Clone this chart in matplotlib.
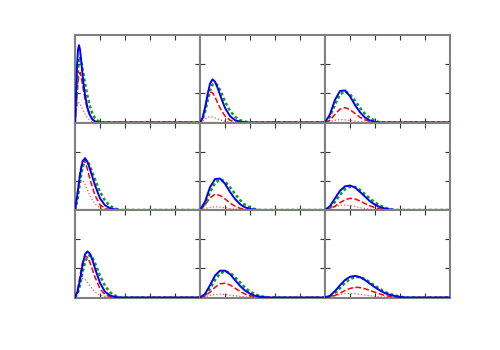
import numpy as np
from matplotlib import pyplot as plt

# curves, one panel at a time (row, column)
# every panel runs out to x = 5 on the zero line

# row 0
x_00 = [0, 0.04, 0.08, 0.12, 0.16, 0.2, 0.25, 0.3, 0.35, 0.4, 0.5, 0.6, 0.7, 0.8, 0.9, 1.0, 1.1]
blue_00 = [0, 0.9, 1.9, 2.5, 2.65, 2.5, 2.1, 1.65, 1.25, 0.95, 0.5, 0.25, 0.11, 0.04, 0.01, 0, 0]
green_00 = [0, 0.55, 1.2, 1.8, 2.15, 2.25, 2.1, 1.85, 1.6, 1.35, 0.9, 0.55, 0.3, 0.15, 0.07, 0.02, 0]
red_00 = [0, 0.35, 0.9, 1.4, 1.65, 1.72, 1.55, 1.3, 1.05, 0.8, 0.45, 0.22, 0.1, 0.04, 0.01, 0, 0]
dot_00 = [0, 0.3, 0.55, 0.67, 0.68, 0.63, 0.55, 0.45, 0.37, 0.29, 0.16, 0.08, 0.03, 0.01, 0, 0, 0]

x_01 = [0, 0.1, 0.2, 0.3, 0.4, 0.5, 0.6, 0.7, 0.8, 1.0, 1.2, 1.4, 1.6, 1.8, 2.0]
blue_01 = [0, 0.15, 0.5, 0.95, 1.33, 1.48, 1.4, 1.2, 0.95, 0.5, 0.22, 0.08, 0.03, 0.01, 0]
green_01 = [0, 0.1, 0.35, 0.72, 1.08, 1.3, 1.35, 1.28, 1.12, 0.72, 0.4, 0.2, 0.08, 0.03, 0]
red_01 = [0, 0.15, 0.48, 0.85, 1.04, 1.02, 0.88, 0.68, 0.5, 0.22, 0.08, 0.02, 0, 0, 0]
dot_01 = [0, 0.05, 0.12, 0.18, 0.2, 0.19, 0.16, 0.12, 0.09, 0.04, 0.015, 0, 0, 0, 0]

x_02 = [0, 0.2, 0.4, 0.6, 0.8, 1.0, 1.2, 1.4, 1.6, 1.8, 2.0, 2.2]
blue_02 = [0, 0.28, 0.78, 1.08, 1.1, 0.9, 0.6, 0.35, 0.17, 0.07, 0.02, 0]
green_02 = [0, 0.2, 0.62, 0.96, 1.07, 0.97, 0.75, 0.5, 0.3, 0.15, 0.06, 0]
red_02 = [0, 0.08, 0.28, 0.46, 0.51, 0.44, 0.31, 0.18, 0.09, 0.04, 0.01, 0]
dot_02 = [0, 0.04, 0.08, 0.1, 0.09, 0.07, 0.05, 0.03, 0.01, 0, 0, 0]

# row 1
x_10 = [0, 0.1, 0.2, 0.3, 0.4, 0.5, 0.6, 0.8, 1.0, 1.2, 1.4, 1.6, 1.8]
blue_10 = [0, 0.55, 1.2, 1.65, 1.78, 1.65, 1.4, 0.85, 0.4, 0.16, 0.06, 0.02, 0]
green_10 = [0, 0.35, 0.95, 1.45, 1.7, 1.68, 1.5, 1.05, 0.62, 0.32, 0.14, 0.05, 0]
red_10 = [0, 0.6, 1.3, 1.7, 1.65, 1.4, 1.05, 0.5, 0.18, 0.05, 0.01, 0, 0]
dot_10 = [0, 0.6, 1.0, 1.02, 0.88, 0.68, 0.48, 0.2, 0.07, 0.02, 0, 0, 0]

x_11 = [0, 0.2, 0.4, 0.6, 0.8, 1.0, 1.2, 1.4, 1.6, 1.8, 2.0, 2.2, 2.4]
blue_11 = [0, 0.28, 0.78, 1.06, 1.08, 0.9, 0.62, 0.38, 0.2, 0.09, 0.04, 0.01, 0]
green_11 = [0, 0.2, 0.6, 0.93, 1.05, 0.98, 0.78, 0.55, 0.34, 0.18, 0.09, 0.03, 0]
red_11 = [0, 0.17, 0.42, 0.54, 0.5, 0.38, 0.24, 0.13, 0.06, 0.02, 0, 0, 0]
dot_11 = [0, 0.05, 0.09, 0.11, 0.1, 0.08, 0.05, 0.03, 0.01, 0, 0, 0, 0]

x_12 = [0, 0.2, 0.4, 0.6, 0.8, 1.0, 1.2, 1.4, 1.6, 1.8, 2.0, 2.2, 2.4, 2.6, 2.8]
blue_12 = [0, 0.13, 0.4, 0.66, 0.81, 0.84, 0.77, 0.62, 0.46, 0.3, 0.18, 0.1, 0.05, 0.02, 0]
green_12 = [0, 0.08, 0.28, 0.52, 0.71, 0.8, 0.79, 0.69, 0.54, 0.39, 0.26, 0.15, 0.08, 0.03, 0]
red_12 = [0, 0.04, 0.13, 0.25, 0.35, 0.4, 0.38, 0.31, 0.22, 0.14, 0.08, 0.04, 0.02, 0.01, 0]
dot_12 = [0, 0.05, 0.11, 0.16, 0.17, 0.15, 0.12, 0.08, 0.05, 0.03, 0.01, 0, 0, 0, 0]

# row 2
x_20 = [0, 0.1, 0.2, 0.3, 0.4, 0.5, 0.6, 0.7, 0.8, 1.0, 1.2, 1.4, 1.6, 1.8]
blue_20 = [0, 0.2, 0.6, 1.1, 1.48, 1.58, 1.5, 1.28, 1.0, 0.5, 0.2, 0.07, 0.02, 0]
green_20 = [0, 0.12, 0.42, 0.85, 1.2, 1.4, 1.45, 1.36, 1.18, 0.75, 0.4, 0.18, 0.07, 0]
red_20 = [0, 0.25, 0.75, 1.2, 1.42, 1.38, 1.2, 0.95, 0.7, 0.3, 0.1, 0.03, 0, 0]
dot_20 = [0, 0.25, 0.52, 0.65, 0.62, 0.52, 0.4, 0.28, 0.19, 0.08, 0.03, 0.01, 0, 0]

x_21 = [0, 0.2, 0.4, 0.6, 0.8, 1.0, 1.2, 1.4, 1.6, 1.8, 2.0, 2.2, 2.4, 2.6, 2.8]
blue_21 = [0, 0.12, 0.42, 0.75, 0.92, 0.92, 0.8, 0.6, 0.4, 0.24, 0.13, 0.06, 0.03, 0.01, 0]
green_21 = [0, 0.08, 0.3, 0.6, 0.82, 0.9, 0.85, 0.7, 0.52, 0.34, 0.2, 0.11, 0.05, 0.02, 0]
red_21 = [0, 0.05, 0.18, 0.35, 0.47, 0.49, 0.43, 0.32, 0.21, 0.12, 0.06, 0.03, 0.01, 0, 0]
dot_21 = [0, 0.03, 0.07, 0.1, 0.11, 0.1, 0.08, 0.06, 0.04, 0.02, 0.01, 0, 0, 0, 0]

x_22 = [0, 0.2, 0.4, 0.6, 0.8, 1.0, 1.2, 1.4, 1.6, 1.8, 2.0, 2.2, 2.4, 2.6, 2.8, 3.0, 3.2]
blue_22 = [0, 0.06, 0.22, 0.42, 0.6, 0.71, 0.74, 0.7, 0.6, 0.47, 0.35, 0.24, 0.15, 0.09, 0.05, 0.02, 0]
green_22 = [0, 0.04, 0.15, 0.32, 0.5, 0.63, 0.7, 0.7, 0.63, 0.52, 0.4, 0.29, 0.19, 0.12, 0.07, 0.03, 0]
red_22 = [0, 0.02, 0.07, 0.15, 0.24, 0.31, 0.35, 0.34, 0.3, 0.24, 0.18, 0.12, 0.07, 0.04, 0.02, 0.01, 0]
dot_22 = [0, 0.02, 0.06, 0.1, 0.13, 0.14, 0.13, 0.11, 0.08, 0.06, 0.04, 0.02, 0.01, 0, 0, 0, 0]

panels = [
    [(x_00, blue_00, green_00, red_00, dot_00),
     (x_01, blue_01, green_01, red_01, dot_01),
     (x_02, blue_02, green_02, red_02, dot_02)],
    [(x_10, blue_10, green_10, red_10, dot_10),
     (x_11, blue_11, green_11, red_11, dot_11),
     (x_12, blue_12, green_12, red_12, dot_12)],
    [(x_20, blue_20, green_20, red_20, dot_20),
     (x_21, blue_21, green_21, red_21, dot_21),
     (x_22, blue_22, green_22, red_22, dot_22)],
]

fig, axes = plt.subplots(3, 3, figsize=(5, 3.5), dpi=100, sharex=True, sharey=True)
fig.subplots_adjust(left=0.15, right=0.9, bottom=0.15, top=0.9, wspace=0, hspace=0)

for r in range(3):
    for c in range(3):
        ax = axes[r][c]
        x, blue, green, red, dot = panels[r][c]
        # tack the flat tail on so every line runs to the right edge
        x = list(x) + [5]
        ax.axhline(0, color='black', lw=1.2, zorder=1)
        ax.plot(x, list(dot) + [0], color='#ff5050', ls=':', lw=0.9, zorder=2)
        ax.plot(x, list(red) + [0], color='red', ls='--', lw=1.1, zorder=3)
        ax.plot(x, list(green) + [0], color='#1a9a1a', ls=(0, (1.2, 1.0)), lw=1.8, zorder=4)
        ax.plot(x, list(blue) + [0], color='blue', ls='-', lw=1.4, zorder=5)

        ax.set_xlim(0, 5)
        ax.set_ylim(0, 3)
        ax.set_xticks([1, 2, 3, 4])
        ax.set_yticks([1, 2])
        ax.tick_params(direction='in', length=3.5, width=0.8, color='#333333',
                       top=True, right=True, labelbottom=False, labelleft=False)
        for s in ax.spines.values():
            s.set_color('#808080')
            s.set_linewidth(1.5)

plt.savefig('out.png')
